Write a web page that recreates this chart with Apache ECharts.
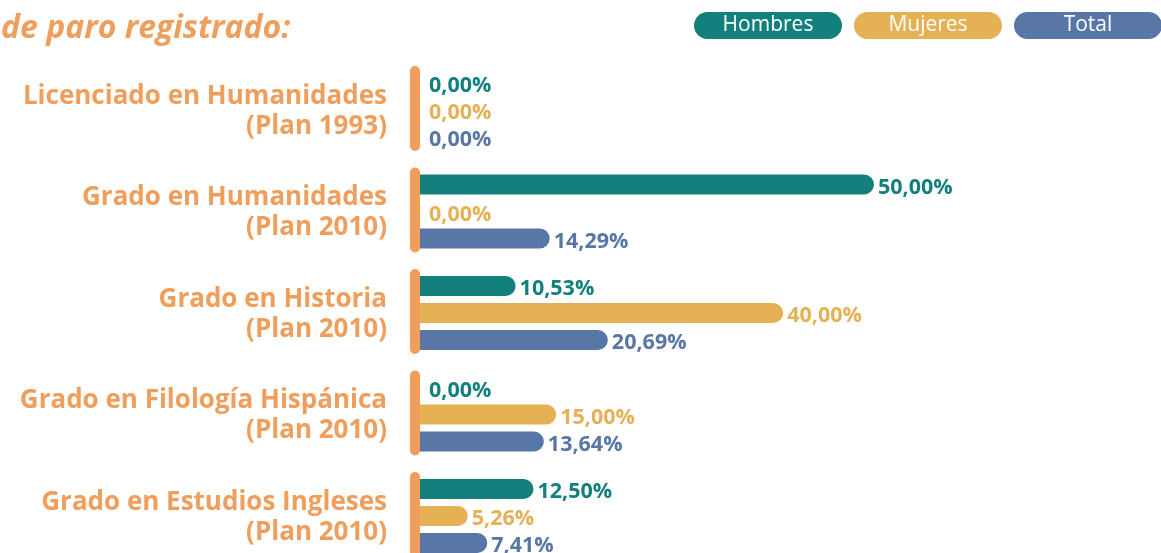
<!DOCTYPE html>
<html>
<head>
<meta charset="utf-8">
<script src="https://cdn.jsdelivr.net/npm/echarts@6/dist/echarts.min.js"></script>
<style>
  html, body { margin: 0; padding: 0; background: #ffffff; overflow: hidden; }
  #chart { width: 1161px; height: 567px; }
</style>
</head>
<body>
<div id="chart"></div>
<script>
// Degrees (two-line labels) and registered-unemployment rates (%) per group
const categories = [
  'Licenciado en Humanidades\n(Plan 1993)',
  'Grado en Humanidades\n(Plan 2010)',
  'Grado en Historia\n(Plan 2010)',
  'Grado en Filología Hispánica\n(Plan 2010)',
  'Grado en Estudios Ingleses\n(Plan 2010)'
];
const hombres = [0.00, 50.00, 10.53, 0.00, 12.50];
const mujeres = [0.00, 0.00, 40.00, 15.00, 5.26];
const total = [0.00, 14.29, 20.69, 13.64, 7.41];
const seriesNames = ['Hombres', 'Mujeres', 'Total'];

const ORANGE = '#EF9E5C';
const COLORS = { Hombres: '#13807D', Mujeres: '#E5B155', Total: '#5876A6' };
const FONT = '"Open Sans", "Noto Sans", sans-serif';

const fmt = v => v.toFixed(2).replace('.', ',') + '%';

function barSeries(name, values) {
  return {
    name: name,
    type: 'bar',
    // empty bars get their label nudged a little clear of the zero marker
    data: values.map(v => ({ value: v, label: { distance: v === 0 ? 9 : 4 } })),
    barWidth: 20,
    barGap: '35%',
    itemStyle: { color: COLORS[name], borderRadius: [0, 10, 10, 0] },
    label: {
      show: true,
      position: 'right',
      offset: [0, 3],
      formatter: p => fmt(p.value),
      color: COLORS[name],
      fontFamily: FONT,
      fontWeight: 'bold',
      fontSize: 21.5
    },
    z: 3
  };
}

const labelFont = { color: ORANGE, fontFamily: FONT, fontWeight: 'bold', fontSize: 26, lineHeight: 33, align: 'right' };

const chart = echarts.init(document.getElementById('chart'));
chart.setOption({
  animation: false,
  backgroundColor: '#ffffff',
  title: {
    text: 'de paro registrado:',
    left: -4,
    top: 8,
    textStyle: {
      color: ORANGE,
      fontFamily: FONT,
      fontStyle: 'italic',
      fontWeight: 'bold',
      fontSize: 32
    }
  },
  legend: {
    data: seriesNames,
    left: 684,
    top: 7,
    width: 600,
    icon: 'none',
    itemWidth: 0,
    itemHeight: 27,
    itemGap: 7,
    selectedMode: false,
    formatter: name => '{' + name + '|' + name + '}',
    textStyle: {
      rich: Object.fromEntries(seriesNames.map(n => [n, {
        width: 148,
        height: 27,
        lineHeight: 29,
        align: 'center',
        backgroundColor: COLORS[n],
        borderRadius: 14,
        color: '#ffffff',
        fontFamily: FONT,
        fontSize: 21
      }]))
    }
  },
  grid: { left: 420, right: 14.6, top: 59.25, bottom: 0.25 },
  xAxis: {
    type: 'value',
    min: 0,
    max: 80,
    show: false
  },
  yAxis: {
    type: 'category',
    data: categories,
    inverse: true,
    axisLine: { show: false },
    axisTick: { show: false },
    splitLine: { show: false },
    axisLabel: {
      margin: 33,
      align: 'right',
      // first line carries a small top pad so the two-line block sits a touch lower
      formatter: v => {
        const lines = v.split('\n');
        return '{first|' + lines[0] + '}\n{second|' + lines[1] + '}';
      },
      rich: {
        first: Object.assign({}, labelFont, { padding: [6, 0, 0, 0] }),
        second: Object.assign({}, labelFont)
      }
    }
  },
  series: [
    // rounded orange marker standing on the zero line for each group
    {
      type: 'custom',
      data: categories.map((c, i) => [0, i]),
      z: 5,
      silent: true,
      renderItem: (params, api) => {
        const pt = api.coord([0, api.value(1)]);
        const h = 85;
        return {
          type: 'rect',
          shape: { x: pt[0] - 10, y: pt[1] - h / 2 - 1.5, width: 10, height: h, r: 5 },
          style: { fill: ORANGE }
        };
      }
    },
    barSeries('Hombres', hombres),
    barSeries('Mujeres', mujeres),
    barSeries('Total', total)
  ]
});
</script>
</body>
</html>
